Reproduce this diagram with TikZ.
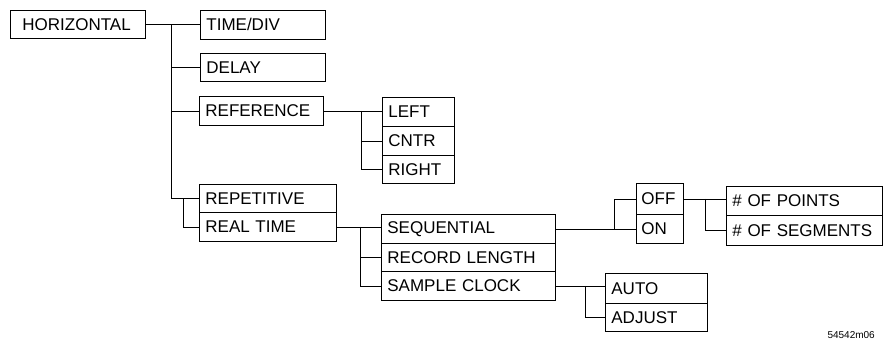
\documentclass[tikz,border=0pt]{standalone}
\usepackage{fontspec}
\setmainfont{Liberation Sans}
\begin{document}
\begin{tikzpicture}[x=1pt,y=-1pt,
  cell/.style={draw, line width=0.8pt, anchor=north west, inner xsep=6pt, inner ysep=0pt,
    align=left, font=\fontsize{17}{17}\selectfont},
  conn/.style={line width=0.8pt},
  lbl/.style={font=\fontsize{10}{10}\selectfont, inner sep=0pt}]
\useasboundingbox (0,0) rectangle (884,341);
% boxes
\node[cell, inner xsep=12pt, text width=111pt, minimum height=28pt] (horiz) at (10,10) {HORIZONTAL};
\node[cell, text width=113pt, minimum height=29pt] (timediv) at (200,10) {TIME/DIV};
\node[cell, text width=113pt, minimum height=28pt] (delay) at (200,53) {DELAY};
\node[cell, text width=112pt, minimum height=29pt] (reference) at (199,96) {REFERENCE};
\node[cell, text width=60pt, minimum height=29pt] (left) at (382,97) {LEFT};
\node[cell, text width=60pt, minimum height=29pt] (cntr) at (382,126) {CNTR};
\node[cell, text width=60pt, minimum height=28pt] (right) at (382,155) {RIGHT};
\node[cell, text width=125pt, minimum height=28pt] (repet) at (199,184) {REPETITIVE};
\node[cell, text width=125pt, minimum height=29pt] (realtime) at (199,212) {REAL TIME};
\node[cell, text width=162pt, minimum height=29pt] (seq) at (381,214) {SEQUENTIAL};
\node[cell, text width=162pt, minimum height=28pt] (record) at (381,243) {RECORD LENGTH};
\node[cell, text width=162pt, minimum height=29pt] (sample) at (381,271) {SAMPLE CLOCK};
\node[cell, inner xsep=5pt, text width=37pt, minimum height=31pt] (off) at (636,183) {OFF};
\node[cell, inner xsep=5pt, text width=37pt, minimum height=29pt] (on) at (636,214) {ON};
\node[cell, text width=144pt, minimum height=29pt] (points) at (726,186) {\# OF POINTS};
\node[cell, text width=144pt, minimum height=30pt] (segments) at (726,215) {\# OF SEGMENTS};
\node[cell, text width=90pt, minimum height=30pt] (auto) at (605,273) {AUTO};
\node[cell, text width=90pt, minimum height=28pt] (adjust) at (605,303) {ADJUST};
\node[lbl, anchor=east] (code) at (875,335) {54542m06};
% junction columns
\coordinate (trunk) at (171,0);
\coordinate (br) at (183,0);
\coordinate (rv) at (361,0);
\coordinate (sv) at (360,0);
\coordinate (ov) at (614,0);
\coordinate (pv) at (705,0);
\coordinate (av) at (585,0);
% connectors
\draw[conn] (horiz.east) -- (horiz.east -| timediv.west);
\draw[conn] (horiz.east -| trunk) |- (repet.west);
\draw[conn] (delay.west -| trunk) -- (delay.west);
\draw[conn] (reference.west -| trunk) -- (reference.west);
\draw[conn] (repet.west -| br) |- (realtime.west);
\draw[conn] (reference.east) -- (reference.east -| left.west);
\draw[conn] (reference.east -| rv) |- (right.west);
\draw[conn] (cntr.west -| rv) -- (cntr.west);
\draw[conn] (realtime.east) -- (realtime.east -| seq.west);
\draw[conn] (realtime.east -| sv) |- (sample.west);
\draw[conn] (record.west -| sv) -- (record.west);
\draw[conn] (seq.east) -- (seq.east -| on.west);
\draw[conn] (seq.east -| ov) |- (off.west);
\draw[conn] (off.east) -- (off.east -| points.west);
\draw[conn] (off.east -| pv) |- (segments.west);
\draw[conn] (sample.east) -- (sample.east -| auto.west);
\draw[conn] (sample.east -| av) |- (adjust.west);
\end{tikzpicture}
\end{document}
